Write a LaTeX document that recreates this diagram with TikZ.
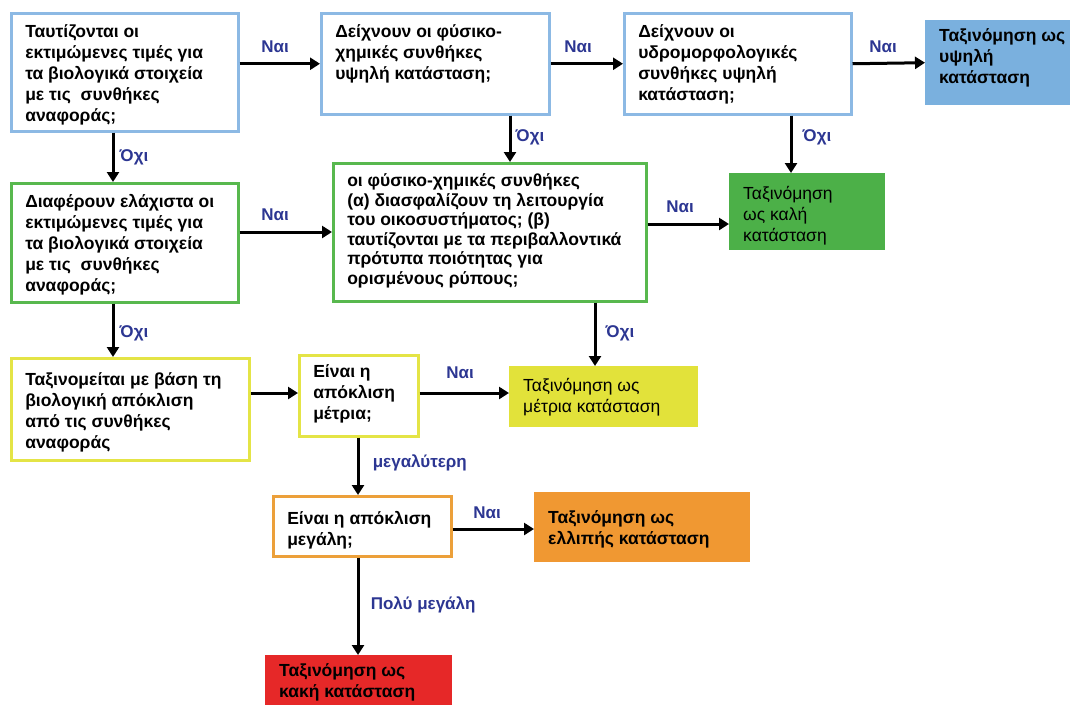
\documentclass[tikz,border=0pt]{standalone}
\usepackage{fontspec}
\setmainfont{Liberation Sans}
\usetikzlibrary{arrows.meta}

\definecolor{blueline}{RGB}{140,185,228}
\definecolor{bluefill}{RGB}{122,176,222}
\definecolor{greenline}{RGB}{88,184,78}
\definecolor{greenfill}{RGB}{76,176,72}
\definecolor{yellowline}{RGB}{228,228,70}
\definecolor{yellowfill}{RGB}{226,226,58}
\definecolor{orangeline}{RGB}{236,160,58}
\definecolor{orangefill}{RGB}{240,152,50}
\definecolor{redfill}{RGB}{230,40,40}
\definecolor{lblblue}{RGB}{44,54,146}

% box text: width, height, top gap, lines
\newcommand{\boxtext}[4]{\parbox[t][#2][t]{#1}{\vspace*{#3}\hspace*{14pt}\begin{tabular}[t]{@{}l@{}}#4\end{tabular}}}

\begin{document}
\begin{tikzpicture}[x=1pt,y=-1pt,
  font=\fontsize{17.5}{21}\selectfont\bfseries,
  qbox/.style={draw=#1,line width=2.5pt,fill=white,anchor=north west,inner sep=0pt},
  cbox/.style={fill=#1,anchor=north west,inner sep=0pt},
  arr/.style={line width=3pt,-{Triangle[length=10pt,width=12pt]}},
  lbl/.style={text=lblblue,font=\fontsize{17}{19}\selectfont\bfseries}]

\useasboundingbox (0,0) rectangle (1070,704);
\clip (0,0) rectangle (1070,704);

% first row
\node (refcond) [qbox=blueline] at (10,12)
  {\boxtext{227pt}{118pt}{10pt}{Ταυτίζονται οι\\ εκτιμώμενες τιμές για\\ τα βιολογικά στοιχεία\\ με τις~ συνθήκες\\ αναφοράς;}};
\node (physchem) [qbox=blueline] at (320,12)
  {\boxtext{228pt}{101pt}{10pt}{Δείχνουν οι φύσικο-\\ χημικές συνθήκες\\ υψηλή κατάσταση;}};
\node (hydromorph) [qbox=blueline] at (623,12)
  {\boxtext{227pt}{101pt}{10pt}{Δείχνουν οι\\ υδρομορφολογικές\\ συνθήκες υψηλή\\ κατάσταση;}};
\node (high) [cbox=bluefill] at (925,20)
  {\boxtext{160pt}{85pt}{7pt}{Ταξινόμηση ως\\ υψηλή\\ κατάσταση}};

% second row
\node (slightdev) [qbox=greenline] at (10,182)
  {\boxtext{227pt}{119pt}{10pt}{Διαφέρουν ελάχιστα οι\\ εκτιμώμενες τιμές για\\ τα βιολογικά στοιχεία\\ με τις~ συνθήκες\\ αναφοράς;}};
\node (physnorm) [qbox=greenline,font=\fontsize{17.5}{19.5}\selectfont\bfseries] at (332,162)
  {\boxtext{313pt}{138pt}{10pt}{οι φύσικο-χημικές συνθήκες\\ (α) διασφαλίζουν τη λειτουργία\\ του οικοσυστήματος; (β)\\ ταυτίζονται με τα περιβαλλοντικά\\ πρότυπα ποιότητας για\\ ορισμένους ρύπους;}};
\node (good) [cbox=greenfill,font=\fontsize{17.5}{21}\selectfont] at (729,173)
  {\boxtext{156pt}{77pt}{12pt}{Ταξινόμηση\\ ως καλή\\ κατάσταση}};

% third row
\node (deviation) [qbox=yellowline] at (10,357)
  {\boxtext{238pt}{102pt}{13pt}{Ταξινομείται με βάση τη\\ βιολογική απόκλιση\\ από τις συνθήκες\\ αναφοράς}};
\node (ismoderate) [qbox=yellowline] at (298,354)
  {\boxtext{119pt}{81pt}{8pt}{Είναι η\\ απόκλιση\\ μέτρια;}};
\node (moderate) [cbox=yellowfill,font=\fontsize{17.5}{21}\selectfont] at (509,366)
  {\boxtext{189pt}{61pt}{11pt}{Ταξινόμηση ως\\ μέτρια κατάσταση}};

% lower rows
\node (islarge) [qbox=orangeline] at (272,495)
  {\boxtext{178pt}{60pt}{14pt}{Είναι η απόκλιση\\ μεγάλη;}};
\node (poor) [cbox=orangefill] at (534,492)
  {\boxtext{216pt}{70pt}{17pt}{Ταξινόμηση ως\\ ελλιπής κατάσταση}};
\node (bad) [cbox=redfill] at (265,655)
  {\boxtext{187pt}{70pt}{7pt}{Ταξινόμηση ως\\ κακή κατάσταση}};

% connectors
\draw[arr] (refcond.east |- physchem.west) -- (physchem.west) node[lbl] at (275,47) {Ναι};
\draw[arr] (physchem.east) -- (hydromorph.west) node[lbl] at (578,47) {Ναι};
\draw[arr] (hydromorph.east) -- (high.west) node[lbl] at (883,47) {Ναι};
\draw[arr] (refcond.south -| 113,0) -- (slightdev.north -| 113,0) node[lbl] at (134,157) {Όχι};
\draw[arr] (physchem.south -| 510,0) -- (physnorm.north -| 510,0) node[lbl] at (530,137) {Όχι};
\draw[arr] (hydromorph.south -| 791,0) -- (good.north -| 791,0) node[lbl] at (817,137) {Όχι};
\draw[arr] (slightdev.east |- 0,232) -- (physnorm.west |- 0,232) node[lbl] at (275,215) {Ναι};
\draw[arr] (physnorm.east |- 0,224) -- (good.west |- 0,224) node[lbl] at (680,207) {Ναι};
\draw[arr] (slightdev.south -| 113,0) -- (deviation.north -| 113,0) node[lbl] at (134,333) {Όχι};
\draw[arr] (physnorm.south -| 595,0) -- (moderate.north -| 595,0) node[lbl] at (620,333) {Όχι};
\draw[arr] (deviation.east |- 0,393) -- (ismoderate.west |- 0,393);
\draw[arr] (ismoderate.east |- 0,393) -- (moderate.west |- 0,393) node[lbl] at (460,373) {Ναι};
\draw[arr] (ismoderate.south -| 358,0) -- (islarge.north -| 358,0) node[lbl,anchor=west] at (368,463) {μεγαλύτερη};
\draw[arr] (islarge.east |- 0,529) -- (poor.west |- 0,529) node[lbl] at (487,513) {Ναι};
\draw[arr] (islarge.south -| 358,0) -- (bad.north -| 358,0) node[lbl,anchor=west] at (366,605) {Πολύ μεγάλη};
\end{tikzpicture}
\end{document}
